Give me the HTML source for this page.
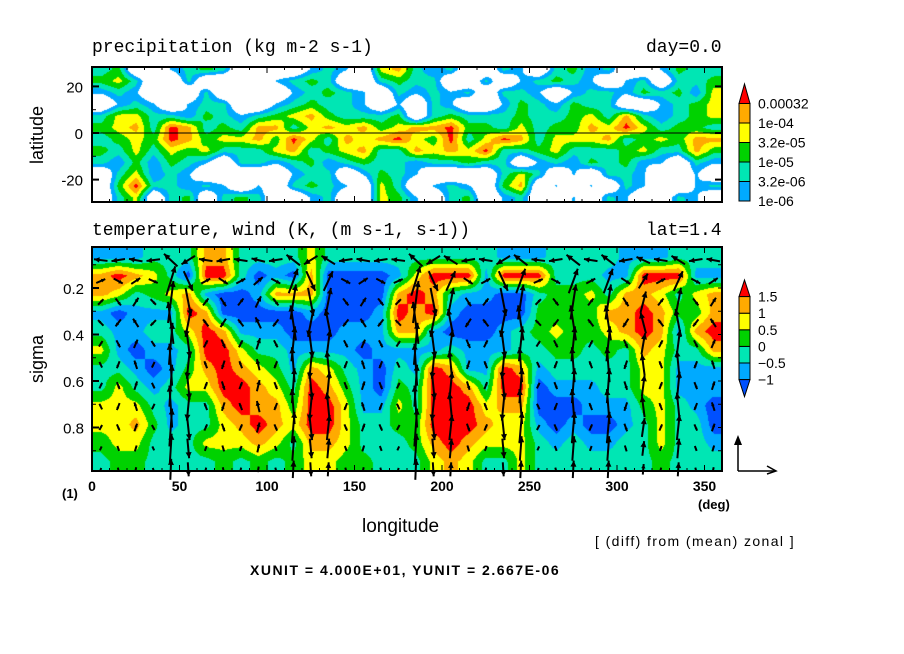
<!DOCTYPE html>
<html><head><meta charset="utf-8">
<style>
body{margin:0;background:#fff;width:904px;height:654px;overflow:hidden;position:relative;font-family:"Liberation Sans",sans-serif;}
.t{position:absolute;white-space:nowrap;color:#000;line-height:1;}
canvas{position:absolute;}
svg{position:absolute;left:0;top:0;}
</style></head>
<body>
<canvas id="cp" width="630" height="135" style="left:92px;top:67px"></canvas>
<canvas id="ct" width="630" height="224" style="left:92px;top:247px"></canvas>
<svg id="ov" width="904" height="654"></svg>

<div class="t" style="left:92px;top:39px;font-size:18px;font-family:'Liberation Mono',monospace">precipitation (kg m-2 s-1)</div>
<div class="t" style="left:646px;top:39px;font-size:18px;font-family:'Liberation Mono',monospace">day=0.0</div>
<div class="t" style="left:92px;top:222px;font-size:18px;font-family:'Liberation Mono',monospace">temperature, wind (K, (m s-1, s-1))</div>
<div class="t" style="left:646px;top:222px;font-size:18px;font-family:'Liberation Mono',monospace">lat=1.4</div>
<div class="t" style="left:2px;top:126px;font-size:18px;transform:rotate(-90deg);width:70px;text-align:center">latitude</div>
<div class="t" style="left:2px;top:350px;font-size:18px;transform:rotate(-90deg);width:70px;text-align:center">sigma</div>
<div class="t" style="left:362px;top:517px;font-size:19px">longitude</div>
<div class="t" style="left:62px;top:487px;font-size:13px;font-weight:bold">(1)</div>
<div class="t" style="left:698px;top:498px;font-size:13px;font-weight:bold">(deg)</div>
<div class="t" style="left:595px;top:534px;font-size:14px;letter-spacing:1.4px">[ (diff) from (mean) zonal ]</div>
<div class="t" style="left:250px;top:563px;font-size:14px;font-weight:bold;letter-spacing:1.5px">XUNIT = 4.000E+01, YUNIT = 2.667E-06</div>

<script>
// ---------- data ----------
const lonTicks=[0,50,100,150,200,250,300,350];
const latTicks=[20,0,-20];
const sigmaTicks=[0.2,0.4,0.6,0.8];
const precipLabels=["0.00032","1e-04","3.2e-05","1e-05","3.2e-06","1e-06"];
const precipLevels=[-6,-5.5,-5,-4.5,-4,-3.5];
const tempLabels=["1.5","1","0.5","0","\u22120.5","\u22121"];
const tempLevels=[-1,-0.5,0,0.5,1,1.5];
// precipitation log10 grid, rows lat 27.5 .. -27.5, cols lon 5..355
const W=-7.2,L=-5.9,A=-5.3,G=-4.8,Y=-4.3,O=-3.8,R=-3.3;
const precip=[
[A,G,W,W,L,A,G,A,W,W,W,W,L,A,L,W,Y,O,A,L,A,W,W,A,L,W,A,G,L,A,W,W,L,G,A,A],
[G,Y,A,W,W,A,W,W,W,W,L,A,G,A,W,W,A,G,A,A,W,W,A,W,L,A,G,A,L,W,L,A,W,A,A,G],
[L,A,L,W,W,W,A,W,W,W,W,L,A,G,A,L,W,A,L,A,L,A,W,A,A,L,W,L,A,A,L,G,A,G,L,Y],
[W,L,A,L,W,L,A,A,W,W,L,A,G,A,A,L,W,L,W,A,L,W,W,L,G,A,L,G,A,A,W,W,L,A,G,Y],
[A,Y,Y,A,A,L,G,A,L,A,G,Y,O,G,A,A,A,G,W,A,G,A,A,A,G,A,A,G,Y,A,O,A,L,A,G,Y],
[G,Y,O,A,R,O,A,G,A,O,O,A,Y,O,Y,O,G,Y,O,O,R,G,G,A,Y,A,G,G,O,Y,R,Y,A,G,G,A],
[A,G,Y,G,R,O,G,Y,Y,O,G,R,Y,A,O,Y,O,R,Y,G,R,A,Y,R,O,A,Y,Y,Y,O,A,G,Y,G,O,O],
[G,A,Y,A,Y,G,Y,A,A,A,Y,O,A,G,Y,O,A,A,O,Y,O,Y,R,A,A,G,Y,A,A,A,G,Y,A,A,O,G],
[A,L,G,L,G,A,L,W,A,A,L,A,G,L,A,G,A,A,L,A,A,G,A,A,W,L,A,L,G,A,G,L,L,W,A,L],
[W,A,Y,L,A,L,W,W,W,W,W,L,A,A,W,L,G,A,L,W,W,W,W,A,Y,A,W,L,W,A,A,L,W,W,L,W],
[W,G,R,A,A,L,A,L,W,L,W,A,G,A,L,W,Y,A,W,L,A,L,W,G,O,W,L,W,L,W,A,L,W,W,L,A],
[W,A,Y,W,A,G,W,A,G,A,W,W,L,A,W,W,Y,G,L,W,A,G,W,L,A,W,W,L,W,A,L,W,W,A,L,W]];
// temperature deviation, columns lon 5..355, each 12 values sigma 0.065..0.945
const D=-1.3,B=-0.7,Aq=-0.2,Gr=0.2,Ye=0.7,Or=1.2,Re=1.8;
const tempCols=[
[B,Or,Or,B,Aq,Ye,Aq,Aq,Ye,Ye,Gr,Aq],
[B,Re,Ye,D,B,B,Aq,Ye,Ye,Ye,Ye,Gr],
[B,Or,Aq,B,B,D,B,Aq,Ye,Or,Ye,Gr],
[Aq,Ye,Gr,B,Aq,B,D,B,Aq,Gr,Aq,Aq],
[Aq,Aq,Ye,B,Aq,B,B,Aq,B,B,Aq,Aq],
[Aq,D,Or,Re,Ye,Aq,Gr,Ye,Aq,Aq,Aq,Aq],
[Or,Re,B,Or,Re,Re,Or,Ye,Aq,Aq,Ye,Aq],
[Or,Re,D,D,Or,Re,Re,Re,Or,Ye,Ye,Gr],
[Aq,Aq,D,D,B,Ye,Or,Re,Re,Or,Ye,Aq],
[Aq,D,B,D,B,Aq,Ye,Or,Or,Re,Or,Gr],
[Aq,B,Or,D,B,Aq,Gr,Ye,Or,Or,Ye,Aq],
[Aq,D,Or,D,D,B,B,Aq,Gr,Ye,Aq,Gr],
[Ye,Or,Or,B,D,B,Or,Re,Re,Re,Or,Ye],
[Aq,D,D,D,D,B,Ye,Or,Re,Re,Or,Ye],
[Aq,D,D,D,B,B,Aq,Gr,Ye,Ye,Ye,Gr],
[Aq,D,D,D,B,D,B,B,B,Aq,Aq,Gr],
[Aq,D,D,B,B,B,D,D,B,Aq,Aq,Aq],
[Aq,B,Or,Re,Or,B,Aq,Gr,Ye,Gr,Aq,Aq],
[Aq,Ye,Re,Or,Or,B,B,Aq,Aq,Gr,Gr,Aq],
[Aq,Re,Or,Re,B,B,Re,Re,Re,Re,Or,Ye],
[Aq,Re,Aq,B,D,Aq,Or,Re,Re,Re,Re,Or],
[Aq,Re,B,D,D,B,B,Or,Re,Re,Or,Ye],
[Aq,B,B,D,D,B,B,Aq,Ye,Or,Ye,Aq],
[B,Re,D,D,B,B,Re,Re,Or,Ye,Ye,Aq],
[B,Re,D,D,Aq,Aq,Or,Re,Or,Ye,Ye,Ye],
[B,Re,Aq,Gr,Gr,Aq,B,D,D,B,Aq,Aq],
[Aq,Aq,Gr,Gr,Ye,Gr,Aq,B,D,D,B,Aq],
[Aq,Aq,Gr,Gr,Gr,Gr,Aq,B,D,B,Aq,Aq],
[Aq,Aq,Ye,Gr,Gr,Aq,Aq,B,B,D,B,Aq],
[Aq,B,Aq,Or,Ye,Gr,Aq,Aq,B,D,B,Aq],
[B,B,Or,Or,Or,Aq,Aq,Aq,B,B,Aq,Aq],
[B,Re,Or,Re,Re,Or,Ye,Ye,Gr,Aq,Aq,Aq],
[B,Re,Ye,Or,Or,Ye,Ye,Ye,Ye,Ye,Ye,Gr],
[Aq,Re,Aq,Gr,B,Aq,B,B,Aq,Aq,Aq,Aq],
[Aq,B,Ye,Gr,Or,Aq,B,B,B,Aq,Aq,Aq],
[Aq,B,Or,Or,Re,Or,B,B,D,D,B,Aq]];
// wind: vertical strength per column, horizontal per row
const windW=[0.4,-0.5,0.6,-0.4,3,-2,0.5,-0.6,0.5,0.8,-0.5,2.5,-2,2,-0.5,0.6,-0.5,0.4,3,-2,2,-0.6,0.5,-2,2.5,0.4,-0.5,2.5,0.5,2.5,-0.6,1.5,0.5,2,-0.5,0.6];
const rowScale=[0.3,0.7,1,1,1,1,1,1,0.9,0.7,0.5];
const windU=[-1.5,1,0.6,-0.6,0.4,-0.3,0.3,-0.3,0.3,0.2,0.1];

// ---------- axes ----------
const PX0=92,PX1=722;
const xLon=l=>PX0+(l/360)*(PX1-PX0);
const yLat=la=>133-2.33*la;
const ySig=s=>241.5+232.5*s;
const pColors=["#ffffff","#00aaff","#00e6b4","#00d200","#ffff00","#ffaa00","#ff0000"];
const tColors=["#0050ff","#00aaff","#00e6b4","#00d200","#ffff00","#ffaa00","#ff0000"];
function bin(v,levels){let i=0;while(i<levels.length&&v>=levels[i])i++;return i;}
function interp(grid,fx,fy){
  const R=grid.length,C=grid[0].length;
  fx=Math.max(0,Math.min(C-1,fx));fy=Math.max(0,Math.min(R-1,fy));
  const x0=Math.floor(fx),y0=Math.floor(fy),x1=Math.min(C-1,x0+1),y1=Math.min(R-1,y0+1);
  const tx=fx-x0,ty=fy-y0;
  return (grid[y0][x0]*(1-tx)+grid[y0][x1]*tx)*(1-ty)+(grid[y1][x0]*(1-tx)+grid[y1][x1]*tx)*ty;
}
function hex(c){return [parseInt(c.slice(1,3),16),parseInt(c.slice(3,5),16),parseInt(c.slice(5,7),16)];}
(function(){
  const cv=document.getElementById('cp'),ctx=cv.getContext('2d');
  const img=ctx.createImageData(cv.width,cv.height);
  const cols=pColors.map(hex);
  for(let y=0;y<cv.height;y++){const la=(133-(y+67))/2.33;const fy=(27.5-la)/5;
    for(let x=0;x<cv.width;x++){const lon=(x)/(630/360);const fx=(lon-5)/10;
      const c=cols[bin(interp(precip,fx,fy),precipLevels)];const k=(y*cv.width+x)*4;
      img.data[k]=c[0];img.data[k+1]=c[1];img.data[k+2]=c[2];img.data[k+3]=255;}}
  ctx.putImageData(img,0,0);
})();
const tempGrid=tempCols[0].map((_,r)=>tempCols.map(c=>c[r]));
(function(){
  const cv=document.getElementById('ct'),ctx=cv.getContext('2d');
  const img=ctx.createImageData(cv.width,cv.height);
  const cols=tColors.map(hex);
  for(let y=0;y<cv.height;y++){const s=((y+247)-241.5)/232.5;const fy=(s-0.065)/0.08;
    for(let x=0;x<cv.width;x++){const lon=x/(630/360);const fx=(lon-5)/10;
      const c=cols[bin(interp(tempGrid,fx,fy),tempLevels)];const k=(y*cv.width+x)*4;
      img.data[k]=c[0];img.data[k+1]=c[1];img.data[k+2]=c[2];img.data[k+3]=255;}}
  ctx.putImageData(img,0,0);
})();

// ---------- svg overlay ----------
const NS="http://www.w3.org/2000/svg",ov=document.getElementById('ov');
function mk(tag,at,name){const e=document.createElementNS(NS,tag);for(const k in at)e.setAttribute(k,at[k]);
  
  
  ov.appendChild(e);return e;}
function txt(x,y,s,size,anchor,name,bold){const e=mk('text',{x:x,y:y,'font-size':size,'text-anchor':anchor||'start','font-family':'Liberation Sans, sans-serif','font-weight':bold?'bold':'normal'},name);e.textContent=s;return e;}
for(let c=0;c<windW.length;c++){for(let r=0;r<rowScale.length;r++){
  const x=xLon(5+10*c),y=ySig(0.08+r*0.09);
  const dx=windU[r]*9,dy=-windW[c]*rowScale[r]*14;
  const len=Math.hypot(dx,dy);if(len<2)continue;
  const ex=x+dx/2,ey=y+dy/2,sx=x-dx/2,sy=y-dy/2;
  mk('line',{x1:sx,y1:sy,x2:ex,y2:ey,stroke:'#000','stroke-width':2},'wind-arrow');
  const ux=dx/len,uy=dy/len,h=Math.min(6,len*0.4);
  mk('polygon',{points:`${ex},${ey} ${ex-ux*h-uy*h*0.5},${ey-uy*h+ux*h*0.5} ${ex-ux*h+uy*h*0.5},${ey-uy*h-ux*h*0.5}`,fill:'#000'},'wind-arrowhead');
}}
mk('rect',{x:92,y:67,width:630,height:135,fill:'none',stroke:'#000','stroke-width':2},'precip-frame');
mk('rect',{x:92,y:247,width:630,height:224,fill:'none',stroke:'#000','stroke-width':2},'temp-frame');
mk('line',{x1:92,y1:yLat(0),x2:722,y2:yLat(0),stroke:'#000','stroke-width':1},'equator-line');
for(let l=0;l<=360;l+=10){const x=xLon(l),big=l%50===0;
  mk('line',{x1:x,y1:471,x2:x,y2:471-(big?6:3),stroke:'#000'},'x-tick');
  mk('line',{x1:x,y1:247,x2:x,y2:247+(big?6:3),stroke:'#000'},'x-tick');
  mk('line',{x1:x,y1:202,x2:x,y2:202-(big?6:3),stroke:'#000'},'x-tick');
  mk('line',{x1:x,y1:67,x2:x,y2:67+(big?6:3),stroke:'#000'},'x-tick');}
lonTicks.forEach(l=>txt(xLon(l),491,String(l),14,'middle','x-tick-label',true));
latTicks.forEach(la=>{const y=yLat(la);mk('line',{x1:92,y1:y,x2:99,y2:y,stroke:'#000','stroke-width':2},'y-tick');
  mk('line',{x1:722,y1:y,x2:715,y2:y,stroke:'#000','stroke-width':2},'y-tick');
  txt(83,y+6,String(la),15,'end','lat-tick-label');});
[10,-10].forEach(la=>{const y=yLat(la);mk('line',{x1:92,y1:y,x2:96,y2:y,stroke:'#000'},'y-minor-tick');});
for(let s=0.1;s<0.99;s+=0.1){const y=ySig(s);mk('line',{x1:92,y1:y,x2:96,y2:y,stroke:'#000'},'y-minor-tick');mk('line',{x1:722,y1:y,x2:718,y2:y,stroke:'#000'},'y-minor-tick');}
sigmaTicks.forEach(s=>{const y=ySig(s);mk('line',{x1:92,y1:y,x2:99,y2:y,stroke:'#000','stroke-width':2},'y-tick');
  txt(84,y+6,s.toFixed(1),15,'end','sigma-tick-label');});
function cbar(top,step,colors,labels,name){
  const x=739,w=11;
  mk('polygon',{points:`${x},${top+step} ${x+w/2},${top} ${x+w},${top+step}`,fill:colors[colors.length-1],stroke:'#000'},name+'-top');
  for(let i=1;i<colors.length-1;i++){const y=top+step*(colors.length-1-i);
    mk('rect',{x:x,y:y,width:w,height:step,fill:colors[i],stroke:'#000'},name+'-bin');}
  labels.forEach((s,i)=>txt(x+19,top+step*(i+1)+5,s,14,'start',name+'-label'));
  return top+step*(colors.length-1);
}
cbar(84,19.5,pColors,precipLabels,'precip-colorbar');
const tb=cbar(280,16.6,tColors,tempLabels,'temp-colorbar');
mk('polygon',{points:`739,${tb} 744.5,${tb+17} 750,${tb}`,fill:tColors[0],stroke:'#000'},'temp-colorbar-bottom');
mk('line',{x1:738,y1:471,x2:738,y2:438,stroke:'#000','stroke-width':1.5},'unit-vector-vertical');
mk('polygon',{points:'738,435 734,445 742,445',fill:'#000'},'unit-vector-head');
mk('line',{x1:738,y1:471,x2:775,y2:471,stroke:'#000','stroke-width':1.5},'unit-vector-horizontal');
mk('polyline',{points:'767,466 776,471 767,474',fill:'none',stroke:'#000','stroke-width':1.5},'unit-vector-head');
</script>
</body></html>
